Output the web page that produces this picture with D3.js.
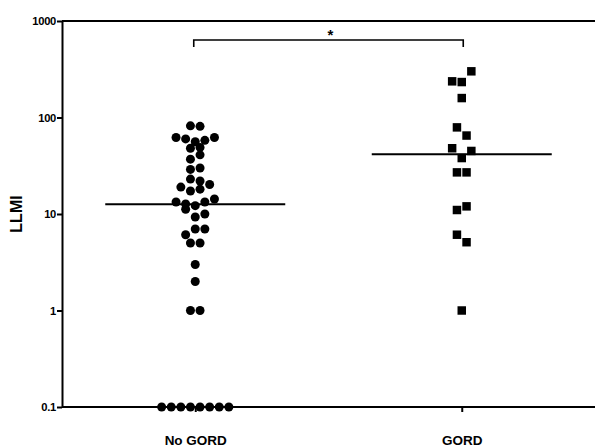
<!DOCTYPE html>
<html>
<head>
<meta charset="utf-8">
<script src="https://cdn.jsdelivr.net/npm/d3@7"></script>
<style>
  html, body { margin: 0; padding: 0; background: #fff; }
  svg { display: block; }
  text { font-family: "Liberation Sans", Arial, sans-serif; font-weight: bold; fill: #000; }
</style>
</head>
<body>
<svg id="chart" width="595" height="448"></svg>
<script>
// ---- data ----
const categories = ["No GORD", "GORD"];
// values grouped in the horizontal rows in which they are drawn, left to right
const noGordRows = [
  [82, 81],
  [62, 60, 56, 58, 62],
  [48, 49],
  [37, 41],
  [29, 30],
  [23, 22],
  [19, 17.3, 18.1, 20.2],
  [13.3, 12.7, 12.2, 13.3, 14.3],
  [11.2, 9.3, 10],
  [6.1, 7.0, 7.0],
  [5, 5],
  [3],
  [2],
  [1, 1],
  [0.1, 0.1, 0.1, 0.1, 0.1, 0.1, 0.1, 0.1]
];
const gordRows = [
  [237, 233, 301],
  [159],
  [79, 65],
  [48, 38, 45],
  [27, 27],
  [11, 12],
  [6.1, 5.1],
  [1]
];
const medians = [12.6, 41.5];
const yTicks = [0.1, 1, 10, 100, 1000];
const yTickLabels = ["0.1", "1", "10", "100", "1000"];
const yLabel = "LLMI";
const sigLabel = "*";

// ---- layout ----
const svg = d3.select("#chart");
const plotLeft = 62, plotRight = 595, plotTop = 21, plotBottom = 407;
const slot = 9.6;

const x = d3.scalePoint().domain(categories).range([plotLeft, plotRight]).padding(0.5);
const y = d3.scaleLog().domain([0.1, 1000]).range([plotBottom, plotTop]);

// top border line
svg.append("line")
  .attr("x1", plotLeft).attr("x2", plotRight).attr("y1", y(1000)).attr("y2", y(1000))
  .attr("stroke", "#000").attr("stroke-width", 2);

// y axis
const yAxis = d3.axisLeft(y).tickValues(yTicks)
  .tickFormat((d, i) => yTickLabels[i]).tickSize(5).tickSizeOuter(0).tickPadding(1);
const gy = svg.append("g").attr("transform", `translate(${plotLeft},0)`).call(yAxis);
gy.select(".domain").attr("stroke", "#000").attr("stroke-width", 2);
gy.selectAll(".tick line").attr("stroke", "#000").attr("stroke-width", 2);
gy.selectAll(".tick text")
  .attr("font-family", "Liberation Sans, Arial, sans-serif")
  .attr("font-weight", "bold").attr("font-size", 11.2).attr("fill", "#000")
  .attr("letter-spacing", "-0.3");

// x axis
const xAxis = d3.axisBottom(x).tickSize(5).tickSizeOuter(0).tickPadding(23);
const gx = svg.append("g").attr("transform", `translate(0,${plotBottom})`).call(xAxis);
gx.select(".domain").attr("stroke", "#000").attr("stroke-width", 2)
  .attr("d", `M${plotLeft},0H${plotRight}`);
gx.selectAll(".tick line").attr("stroke", "#000").attr("stroke-width", 2);
gx.selectAll(".tick text")
  .attr("font-family", "Liberation Sans, Arial, sans-serif")
  .attr("font-weight", "bold").attr("font-size", 13.5).attr("fill", "#000");

// y label
svg.append("text")
  .attr("transform", `translate(22,${y(10)}) rotate(-90)`)
  .attr("text-anchor", "middle")
  .attr("font-size", 16)
  .text(yLabel);

// points
function layout(rows, cat) {
  const pts = [];
  rows.forEach(row => {
    const n = row.length;
    row.forEach((v, i) => pts.push({ v, cx: x(cat) + (i - (n - 1) / 2) * slot }));
  });
  return pts;
}
const noPts = layout(noGordRows, categories[0]);
const gPts = layout(gordRows, categories[1]);

svg.append("g").selectAll("circle").data(noPts).join("circle")
  .attr("cx", d => d.cx).attr("cy", d => y(d.v)).attr("r", 4.5).attr("fill", "#000");

const sq = d3.symbol().type(d3.symbolSquare).size(72);
svg.append("g").selectAll("path").data(gPts).join("path")
  .attr("transform", d => `translate(${d.cx},${y(d.v)})`)
  .attr("d", sq).attr("fill", "#000");

// median lines
svg.append("g").selectAll("line").data(categories).join("line")
  .attr("x1", d => x(d) - 90).attr("x2", d => x(d) + 90)
  .attr("y1", (d, i) => y(medians[i])).attr("y2", (d, i) => y(medians[i]))
  .attr("stroke", "#000").attr("stroke-width", 2);

// significance bracket
const bx0 = x(categories[0]) - 1.5, bx1 = x(categories[1]) + 1.5, by = 40;
svg.append("path")
  .attr("d", `M${bx0},${by + 7}V${by}H${bx1}V${by + 7}`)
  .attr("fill", "none").attr("stroke", "#000").attr("stroke-width", 1.6);
svg.append("text")
  .attr("x", (bx0 + bx1) / 2 + 2).attr("y", by - 0.5)
  .attr("text-anchor", "middle").attr("font-size", 15).attr("font-weight", "normal")
  .text(sigLabel);
</script>
</body>
</html>
